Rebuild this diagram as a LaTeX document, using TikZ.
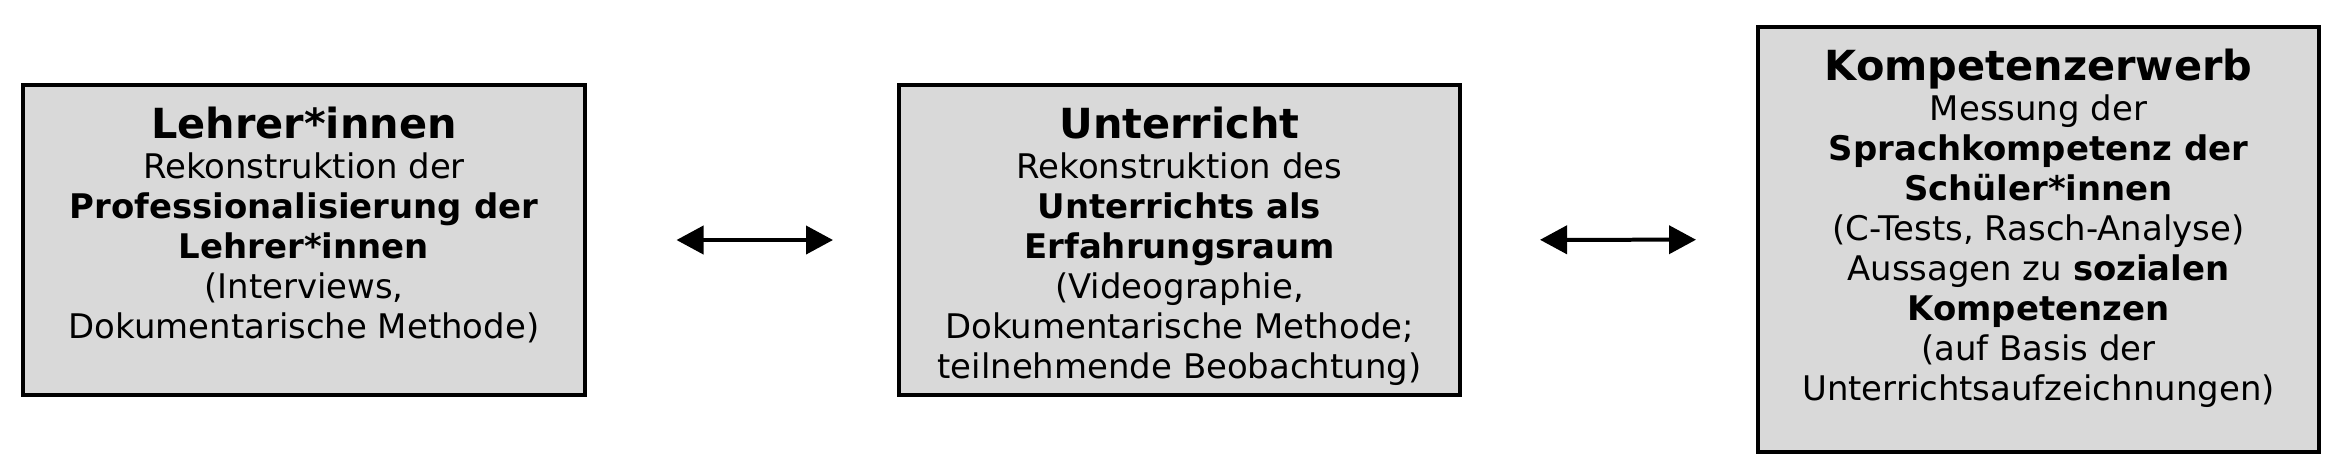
\documentclass[tikz,border=0pt]{standalone}
\usepackage{fontspec}
\setmainfont{DejaVu Sans}
\usetikzlibrary{arrows.meta}
\definecolor{boxgray}{RGB}{217,217,217}

\begin{document}
\begin{tikzpicture}[
    > = {Triangle[length=0.27cm, width=0.28cm]},
    box/.style = {draw, line width=0.04cm, fill=boxgray, minimum width=5.61cm, inner sep=0pt},
    boxtext/.style = {anchor=north, align=center, inner sep=0pt, font=\fontsize{9.65}{11.4}\selectfont},
    link/.style = {<->, line width=0.04cm}
]

    \def\head#1{{\fontsize{11.8}{11.4}\selectfont\bfseries #1}}

    \useasboundingbox (0, 0) rectangle (23.35, -4.64);

    % Lehrer*innen
    \node [box, minimum height=3.10cm] (lehrer) at (3.04, -2.40) {};
    \node [boxtext] (lehrerText) at ([yshift=-0.23cm] lehrer.north) {
        \head{Lehrer*innen}\\
        Rekonstruktion der\\
        \textbf{Professionalisierung der}\\
        \textbf{Lehrer*innen}\\
        (Interviews,\\
        Dokumentarische Methode)
    };

    % Unterricht
    \node [box, minimum height=3.10cm] (unterricht) at (11.795, -2.40) {};
    \node [boxtext] (unterrichtText) at ([yshift=-0.23cm] unterricht.north) {
        \head{Unterricht}\\
        Rekonstruktion des\\
        \textbf{Unterrichts als}\\
        \textbf{Erfahrungsraum}\\
        (Videographie,\\
        Dokumentarische Methode;\\
        teilnehmende Beobachtung)
    };

    % Kompetenzerwerb
    \node [box, minimum height=4.25cm] (kompetenz) at (20.385, -2.395) {};
    \node [boxtext] (kompetenzText) at ([yshift=-0.23cm] kompetenz.north) {
        \head{Kompetenzerwerb}\\
        Messung der\\
        \textbf{Sprachkompetenz der}\\
        \textbf{Schüler*innen}\\
        (C-Tests, Rasch-Analyse)\\
        Aussagen zu \textbf{sozialen}\\
        \textbf{Kompetenzen}\\
        (auf Basis der\\
        Unterrichtsaufzeichnungen)
    };

    % Arrows
    \draw [link, shorten <=0.90cm, shorten >=0.64cm] (lehrer) -- (unterricht);
    \draw [link, shorten <=0.78cm, shorten >=0.60cm] (unterricht) -- (kompetenz);
\end{tikzpicture}
\end{document}
